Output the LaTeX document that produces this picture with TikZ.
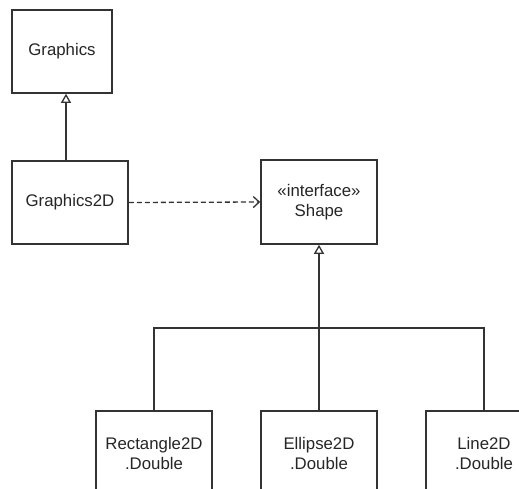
\documentclass[tikz,border=0pt]{standalone}
\usepackage{fontspec}
\setmainfont{Liberation Sans}
\usetikzlibrary{arrows.meta}
\tikzset{
  cls/.style={draw=black!80, line width=1.6pt, fill=white, minimum width=116pt, minimum height=84pt, inner sep=0pt, align=center, font=\fontsize{16.8}{20}\selectfont, text=black!85},
  inh/.style={draw=black!80, line width=1.6pt, -{Triangle[open, length=9pt, width=10pt, line width=1.3pt]}},
  dep/.style={draw=black!80, line width=1.3pt, dash pattern=on 5pt off 3pt, -{Straight Barb[length=6pt, width=11pt, line width=1.3pt]}},
  lnk/.style={draw=black!80, line width=1.6pt}
}
\begin{document}
\begin{tikzpicture}[x=1pt, y=-1pt]
\useasboundingbox (0,0) rectangle (519,488);
\clip (0,0) rectangle (519,488);
\node[cls, minimum width=100pt, minimum height=83pt] (g) at (62,51.5) {Graphics};
\node[cls, minimum height=83pt] (g2) at (70,202.5) {Graphics2D};
\node[cls] (s) at (319,202) {«interface»\\Shape};
\node[cls] (r) at (154,453) {Rectangle2D\\.Double};
\node[cls] (e) at (319,453) {Ellipse2D\\.Double};
\node[cls] (l) at (484,453) {Line2D\\.Double};
\coordinate (j) at (319,328);
\draw[inh] (g2.north -| 66,0) -- (g.south -| 66,0);
\draw[dep] (g2.east) -- (s.west);
\draw[inh] (e.north) -- (s.south);
\draw[lnk] (r.north) |- (j) -| (l.north);
\end{tikzpicture}
\end{document}
